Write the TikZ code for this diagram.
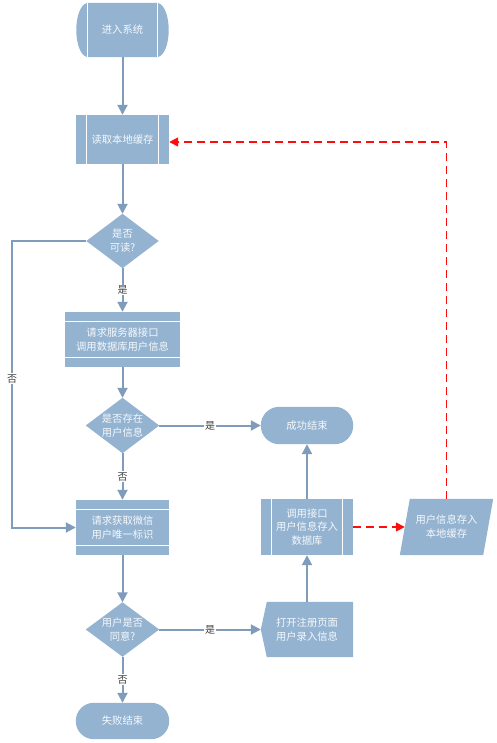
\documentclass[tikz,border=0pt]{standalone}
\usepackage{fontspec}
\setmainfont{Noto Sans CJK SC}
\usetikzlibrary{arrows.meta,backgrounds,calc}
\definecolor{bfill}{HTML}{93B3D1}
\definecolor{lcol}{HTML}{7F9DBA}
\definecolor{tcol}{HTML}{F6F9FC}
\definecolor{rcol}{HTML}{FF0D0D}
\begin{document}
\begin{tikzpicture}[x=1pt,y=-1pt,
  txt/.style={text=tcol, font=\fontsize{10.3}{14}\selectfont, align=center, inner sep=0},
  conn/.style={draw=lcol, line width=2, -{Triangle[width=10,length=10]}},
  rconn/.style={draw=rcol, line width=1.6, dash pattern=on 8 off 5, -{Triangle[width=9,length=9]}},
  lbl/.style={fill=white, text=black!75, font=\fontsize{10}{12}\selectfont, inner sep=1},
  wline/.style={draw=white, line width=1}]
\useasboundingbox (0,0) rectangle (496,743);

\node[txt, minimum width=92, minimum height=54] (start) at (122.5,30) {进入系统};
\node[txt, minimum width=93, minimum height=49] (read) at (122.5,139.5) {读取本地缓存};
\node[txt, minimum width=72, minimum height=54] (d1) at (122.5,241) {是否\\可读?};
\node[txt, minimum width=114, minimum height=55] (svc) at (122.5,339.5) {请求服务器接口\\调用数据库用户信息};
\node[txt, minimum width=73, minimum height=55] (d2) at (122.5,425.5) {是否存在\\用户信息};
\node[txt, minimum width=92, minimum height=37] (ok) at (307,425.5) {成功结束};
\node[txt, minimum width=92, minimum height=56, font=\fontsize{10.3}{13.5}\selectfont] (db) at (307,527) {调用接口\\用户信息存入\\数据库};
\node[txt, minimum width=83, minimum height=56] (cache) at (446.5,527) {用户信息存入\\本地缓存};
\node[txt, minimum width=93, minimum height=55] (wx) at (122.5,527.5) {请求获取微信\\用户唯一标识};
\node[txt, minimum width=73, minimum height=54] (d3) at (122.5,629.5) {用户是否\\同意?};
\node[txt, minimum width=92, minimum height=55] (reg) at (307,629.5) {打开注册页面\\用户录入信息};
\node[txt, minimum width=93, minimum height=36] (fail) at (122.5,721) {失败结束};
\coordinate (lp) at (12,241);

\begin{pgfonlayer}{background}
\fill[white] (0,0) rectangle (496,743);
% start terminal
\fill[bfill] ([xshift=11]start.north west) -- ([xshift=-11]start.north east)
  .. controls ([xshift=3.7,yshift=-4]start.north east) and ([xshift=3.7,yshift=4]start.south east) .. ([xshift=-11]start.south east)
  -- ([xshift=11]start.south west)
  .. controls ([xshift=-3.7,yshift=4]start.south west) and ([xshift=-3.7,yshift=-4]start.north west) .. ([xshift=11]start.north west) -- cycle;
\draw[wline] ([xshift=11]start.north west) -- ([xshift=11]start.south west);
\draw[wline] ([xshift=-11]start.north east) -- ([xshift=-11]start.south east);
% read
\fill[bfill] (read.north west) rectangle (read.south east);
\draw[wline] ([xshift=11]read.north west) -- ([xshift=11]read.south west);
\draw[wline] ([xshift=-11]read.north east) -- ([xshift=-11]read.south east);
% diamonds
\foreach \d in {d1,d2,d3} \fill[bfill] (\d.north) -- (\d.east) -- (\d.south) -- (\d.west) -- cycle;
% svc
\fill[bfill] (svc.north west) rectangle (svc.south east);
\draw[wline] ([yshift=-10]svc.north west) -- ([yshift=-10]svc.north east);
\draw[wline] ([yshift=10]svc.south west) -- ([yshift=10]svc.south east);
% wx
\fill[bfill] (wx.north west) rectangle (wx.south east);
\draw[wline] ([yshift=-10]wx.north west) -- ([yshift=-10]wx.north east);
\draw[wline] ([yshift=10]wx.south west) -- ([yshift=10]wx.south east);
% ok, fail
\fill[bfill, rounded corners=18.5] (ok.north west) rectangle (ok.south east);
\fill[bfill, rounded corners=18] (fail.north west) rectangle (fail.south east);
% db
\fill[bfill] (db.north west) rectangle (db.south east);
\draw[wline] ([xshift=11]db.north west) -- ([xshift=11]db.south west);
\draw[wline] ([xshift=-11]db.north east) -- ([xshift=-11]db.south east);
% cache parallelogram
\fill[bfill] ([xshift=-5]cache.south west) -- ([xshift=5]cache.north west) -- ([xshift=5]cache.north east) -- ([xshift=-5]cache.south east) -- cycle;
% reg manual shape
\fill[bfill] ([xshift=6]reg.north west) -- (reg.north east) -- (reg.south east) -- ([xshift=6]reg.south west) -- (reg.west) -- cycle;
\end{pgfonlayer}

\draw[conn] (start) -- (read);
\draw[conn] (read) -- (d1);
\draw[conn] (d1) -- node[lbl]{是} (svc);
\draw[conn] (svc) -- (d2);
\draw[conn] (d2) -- node[lbl]{是} (ok);
\draw[conn] (d2) -- node[lbl]{否} (wx);
\draw[conn] (d1.west) -- (lp) |- node[lbl, pos=0.24]{否} (wx.west);
\draw[conn] (wx) -- (d3);
\draw[conn] (d3) -- node[lbl]{否} (fail);
\draw[conn] (d3.east) -- node[lbl]{是} (reg.west);
\draw[conn] (reg) -- (db);
\draw[conn] (db) -- (ok);
\draw[rconn] (db.east) -- (cache.west);
\draw[rconn] (cache.north) |- ([yshift=-2.5]read.east);
\end{tikzpicture}
\end{document}
